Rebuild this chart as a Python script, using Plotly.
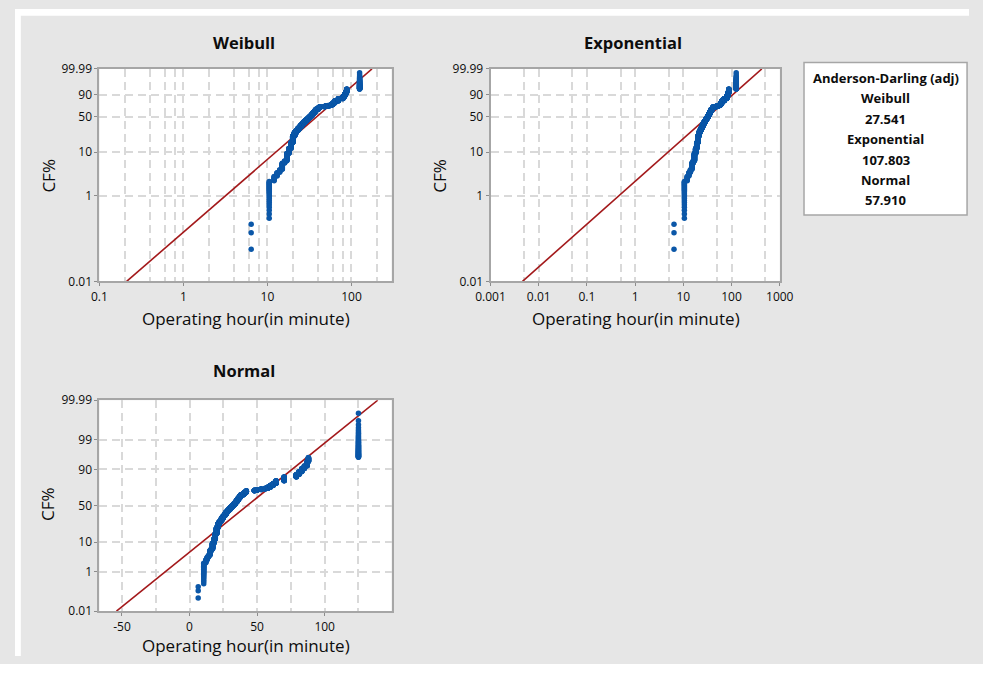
import numpy as np
import plotly.graph_objects as go
from statistics import NormalDist

# Operating times (minutes) and the number of observations at each value
times = [6.4, 10.5, 12, 13, 14, 15, 16, 17, 18, 19, 20, 21,
         22, 23, 24, 25, 26, 27, 28, 29, 30, 31, 32, 33, 34, 35, 36, 37, 38,
         40, 41, 42, 48, 50, 53, 56, 58, 60, 62, 64, 70,
         79, 81, 83, 85, 87, 88, 125]
counts = [3, 24, 8, 8, 7, 20, 9, 37, 34, 50, 75, 50,
          31, 32, 31, 31, 31, 32, 25, 25, 25, 25, 25, 25, 31, 31, 31, 32, 25,
          25, 18, 19, 10, 9, 10, 9, 18, 25, 25, 32, 43,
          25, 25, 25, 19, 25, 20, 55]

# Fitted distribution parameters
weibull_shape = 1.70
weibull_scale = 47.5
exp_mean = 46.0
normal_mean = 42.6
normal_sd = 26.0

# Anderson-Darling (adj) statistics
ad_names = ["Weibull", "Exponential", "Normal"]
ad_values = ["27.541", "107.803", "57.910"]

# Probability-axis labels (percent)
weib_ticks = [0.01, 1, 10, 50, 90, 99.99]
norm_ticks = [0.01, 1, 10, 50, 90, 99, 99.99]

W, H = 983, 664
nd = NormalDist()


def fx(x):
    return x / W


def fy(y):
    return 1 - y / H


def weib_y(p):
    p = np.asarray(p, dtype=float)
    return np.log10(-np.log(1 - p))


def norm_y(p):
    return np.array([nd.inv_cdf(v) for v in np.atleast_1d(p)])


# Expand to individual observations and median-rank plotting positions
obs = np.sort(np.repeat(np.array(times, dtype=float), counts))
n = len(obs)
ranks = np.arange(1, n + 1)
pp = (ranks - 0.3) / (n + 0.4)

PT = "#0b57a8"
LN = "#a3191b"
GRID = "#d9d9d9"
BORDER = "#a6a6a6"
FONT = "Open Sans"
TXT = "#0d0d0d"

fig = go.Figure()

marker = dict(color=PT, size=5.5, line=dict(width=0))

# Fitted lines spanning the full probability range
pl = np.linspace(0.0001, 0.9999, 400)

# Weibull
wx = weibull_scale * (-np.log(1 - pl)) ** (1 / weibull_shape)
fig.add_trace(go.Scatter(x=wx, y=weib_y(pl), mode="lines", line=dict(color=LN, width=1.6),
                         xaxis="x", yaxis="y", hoverinfo="skip"))
fig.add_trace(go.Scatter(x=obs, y=weib_y(pp), mode="markers", marker=marker,
                         xaxis="x", yaxis="y"))

# Exponential
ex = exp_mean * (-np.log(1 - pl))
fig.add_trace(go.Scatter(x=ex, y=weib_y(pl), mode="lines", line=dict(color=LN, width=1.6),
                         xaxis="x2", yaxis="y2", hoverinfo="skip"))
fig.add_trace(go.Scatter(x=obs, y=weib_y(pp), mode="markers", marker=marker,
                         xaxis="x2", yaxis="y2"))

# Normal
nx = normal_mean + normal_sd * norm_y(pl)
fig.add_trace(go.Scatter(x=nx, y=norm_y(pl), mode="lines", line=dict(color=LN, width=1.6),
                         xaxis="x3", yaxis="y3", hoverinfo="skip"))
fig.add_trace(go.Scatter(x=obs, y=norm_y(pp), mode="markers", marker=marker,
                         xaxis="x3", yaxis="y3"))

tickfont = dict(family=FONT, size=12, color=TXT)
common = dict(showline=True, mirror=True, linecolor=BORDER, linewidth=2,
              showgrid=True, gridcolor=GRID, gridwidth=1.5, griddash="8px,5px",
              zeroline=False, ticks="outside", ticklen=3, tickcolor="#8c8c8c",
              tickfont=tickfont, fixedrange=True)


def minor(vals):
    return dict(tickvals=vals, showgrid=True, gridcolor=GRID, gridwidth=1.5,
                griddash="8px,5px", ticks="")


wy_range = [float(weib_y(0.0001)), float(weib_y(0.9999))]
wy_ticks = list(weib_y(np.array(weib_ticks) / 100))
ny_range = [float(norm_y(0.0001)[0]), float(norm_y(0.9999)[0])]
ny_ticks = list(norm_y(np.array(norm_ticks) / 100))

left_dom = [fx(87), fx(388)]
right_dom = [fx(490), fx(788)]
top_dom = [fy(279.5), fy(61.5)]
bot_dom = [fy(618), fy(401.5)]

fig.update_layout(
    xaxis=dict(common, domain=left_dom, anchor="y", type="log",
               range=[-1, np.log10(300)],
               tickvals=[0.1, 1, 10, 100], ticktext=["0.1", "1", "10", "100"],
               minor=minor([0.2, 0.4, 0.6, 0.8, 2, 4, 6, 8, 20, 40, 60, 80, 200])),
    yaxis=dict(common, domain=top_dom, anchor="x", range=wy_range,
               tickvals=wy_ticks, ticktext=[f"{t:g}" for t in weib_ticks]),
    xaxis2=dict(common, domain=right_dom, anchor="y2", type="log",
                range=[-3, 3],
                tickvals=[0.001, 0.01, 0.1, 1, 10, 100, 1000],
                ticktext=["0.001", "0.01", "0.1", "1", "10", "100", "1000"],
                minor=minor([0.005, 0.05, 0.5, 5, 50, 500])),
    yaxis2=dict(common, domain=top_dom, anchor="x2", range=wy_range,
                tickvals=wy_ticks, ticktext=[f"{t:g}" for t in weib_ticks]),
    xaxis3=dict(common, domain=left_dom, anchor="y3", range=[-66.7, 149.5],
                tickvals=[-50, 0, 50, 100], ticktext=["-50", "0", "50", "100"],
                minor=minor([-25, 25, 75, 125])),
    yaxis3=dict(common, domain=bot_dom, anchor="x3", range=ny_range,
                tickvals=ny_ticks, ticktext=[f"{t:g}" for t in norm_ticks]),
)

annotations = []


def text(x, y, s, size, bold=False, angle=0):
    annotations.append(dict(
        xref="paper", yref="paper", x=fx(x), y=fy(y), text=f"<b>{s}</b>" if bold else s,
        showarrow=False, xanchor="center", yanchor="middle", textangle=angle,
        font=dict(family=FONT, size=size, color=TXT)))


# Panel titles
text(236, 34, "Weibull", 16.5, bold=True)
text(637, 34, "Exponential", 16.5, bold=True)
text(236, 371, "Normal", 16.5, bold=True)

# Axis titles
for cx, cy in [(238, 318), (640, 318), (238, 653)]:
    text(cx, cy, "Operating hour(in minute)", 17)
for cx, cy in [(35, 171), (438, 171), (34, 508)]:
    text(cx, cy, "CF%", 17, angle=-90)

# Goodness-of-fit box
BOX_L, BOX_R = 813, 981
box_lines = ["Anderson-Darling (adj)"]
for name, val in zip(ad_names, ad_values):
    box_lines += [name, val]
for i, s in enumerate(box_lines):
    text((BOX_L + BOX_R) / 2, 70.5 + i * 21, s, 13, bold=True)

shapes = [
    # white strips along the top and left edges
    dict(type="rect", xref="paper", yref="paper", x0=0, x1=1, y0=fy(7), y1=1,
         fillcolor="white", line=dict(width=0), layer="below"),
    dict(type="rect", xref="paper", yref="paper", x0=0, x1=fx(6), y0=0, y1=1,
         fillcolor="white", line=dict(width=0), layer="below"),
    # statistics box
    dict(type="rect", xref="paper", yref="paper", x0=fx(BOX_L), x1=fx(BOX_R),
         y0=fy(211.5), y1=fy(55), fillcolor="white",
         line=dict(color=BORDER, width=1.5), layer="above"),
]

fig.update_layout(
    width=W, height=H, margin=dict(l=0, r=0, t=0, b=0),
    paper_bgcolor="#e6e6e6", plot_bgcolor="white",
    showlegend=False, annotations=annotations, shapes=shapes,
    font=dict(family=FONT, color=TXT),
)

fig.write_html("out.html")
